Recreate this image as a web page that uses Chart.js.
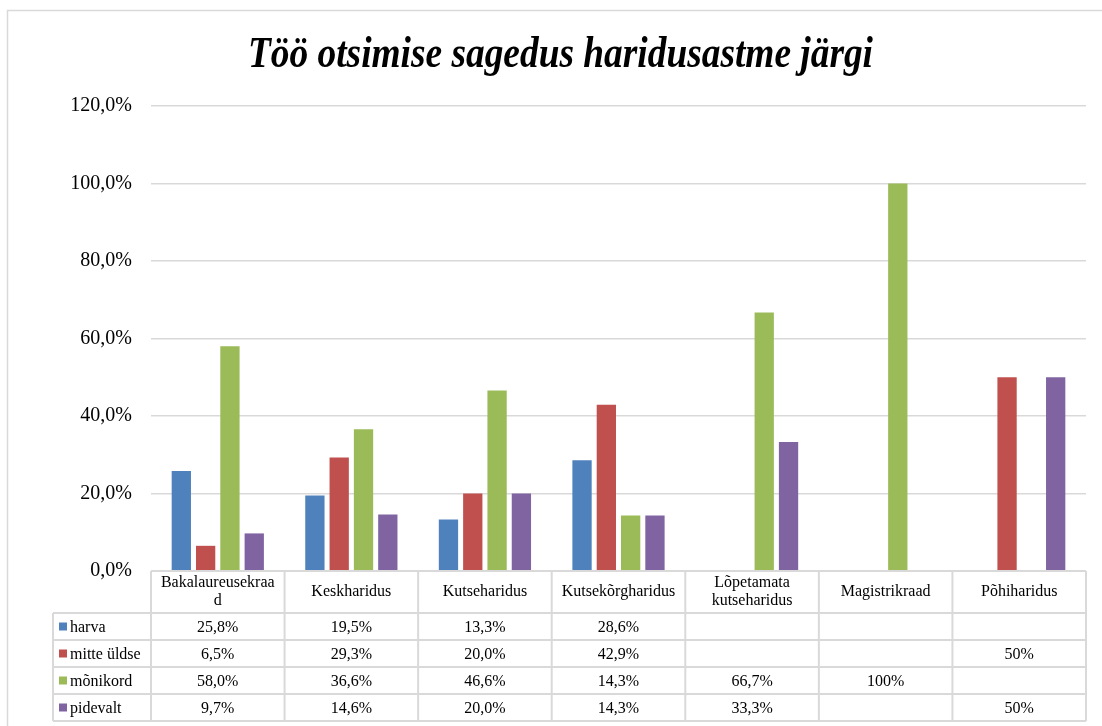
<!DOCTYPE html>
<html><head><meta charset="utf-8">
<script src="https://cdn.jsdelivr.net/npm/chart.js@4.4.0/dist/chart.umd.min.js"></script>
<style>html,body{margin:0;padding:0;background:#fff;overflow:hidden}#wrap{width:1102px;height:726px;position:relative}</style>
</head><body><div id="wrap"><canvas id="c" width="1102" height="726"></canvas></div>
<script>
const chartTitle = "Töö otsimise sagedus haridusastme järgi";
const categories = [["Bakalaureusekraa","d"],"Keskharidus","Kutseharidus","Kutsekõrgharidus",["Lõpetamata","kutseharidus"],"Magistrikraad","Põhiharidus"];
const seriesNames = ["harva","mitte üldse","mõnikord","pidevalt"];
const harva      = [25.8, 19.5, 13.3, 28.6, null, null, null];
const mitteUldse = [6.5, 29.3, 20.0, 42.9, null, null, 50];
const monikord   = [58.0, 36.6, 46.6, 14.3, 66.7, 100, null];
const pidevalt   = [9.7, 14.6, 20.0, 14.3, 33.3, null, 50];
const tableDecimals = [1, 1, 1, 1, 1, 0, 0];
const yTicks = [0, 20, 40, 60, 80, 100, 120];
const colors = ["#4F81BD", "#C0504D", "#9BBB59", "#8064A2"];

const seriesValues = [harva, mitteUldse, monikord, pidevalt];
const SERIF = "'Liberation Serif','Times New Roman',serif";
const GRID = '#d9d9d9';

function fmtPct(v, d){ return v.toFixed(d).replace('.', ',') + '%'; }

const framePlugin = {
  id: 'frame',
  beforeDraw(chart){
    const ctx = chart.ctx;
    ctx.save();
    ctx.fillStyle = '#fff';
    ctx.fillRect(0, 0, chart.width, chart.height);
    ctx.strokeStyle = GRID; ctx.lineWidth = 1.5;
    ctx.strokeRect(7.5, 10.5, 1200, 800);
    ctx.restore();
  },
  afterDraw(chart){
    const ctx = chart.ctx, ca = chart.chartArea, xs = chart.scales.x;
    ctx.save();
    // title
    ctx.font = "bold italic 44px " + SERIF;
    const w = ctx.measureText(chartTitle).width;
    const sx = Math.min(1, 625 / w);
    ctx.translate(560.5, 67);
    ctx.scale(sx, 1);
    ctx.fillStyle = '#000';
    ctx.textAlign = 'center'; ctx.textBaseline = 'alphabetic';
    ctx.fillText(chartTitle, 0, 0);
    ctx.restore();

    // table
    const n = categories.length;
    const cw = (ca.right - ca.left) / n;
    const top = ca.bottom, hdrB = top + 42, rowH = 27, legL = 53;
    const bottom = hdrB + rowH * seriesValues.length;
    ctx.save();
    ctx.strokeStyle = GRID; ctx.lineWidth = 2;
    const line = (x1,y1,x2,y2)=>{ctx.beginPath();ctx.moveTo(x1,y1);ctx.lineTo(x2,y2);ctx.stroke();};
    line(ca.left, top, ca.right, top);
    for (let r = 0; r <= seriesValues.length; r++) {
      const y = hdrB + r * rowH;
      line(legL, y, ca.right, y);
    }
    for (let i = 0; i <= n; i++) {
      const x = ca.left + i * cw;
      line(x, top, x, bottom);
    }
    line(legL, hdrB, legL, bottom);

    ctx.fillStyle = '#000';
    ctx.font = "16px " + SERIF;
    ctx.textAlign = 'center'; ctx.textBaseline = 'middle';
    for (let i = 0; i < n; i++) {
      const cx = xs.getPixelForValue(i);
      const lines = Array.isArray(categories[i]) ? categories[i] : [categories[i]];
      const lh = 18, cy = (top + hdrB) / 2;
      lines.forEach((t, k) => {
        ctx.fillText(t, cx, cy + (k - (lines.length - 1) / 2) * lh);
      });
      seriesValues.forEach((arr, r) => {
        const v = arr[i];
        if (v !== null && v !== undefined) {
          ctx.fillText(fmtPct(v, tableDecimals[i]), cx, hdrB + r * rowH + rowH / 2 + 1);
        }
      });
    }
    ctx.textAlign = 'left';
    seriesNames.forEach((name, r) => {
      const cy = hdrB + r * rowH + rowH / 2;
      ctx.fillStyle = colors[r];
      ctx.fillRect(59, cy - 4, 8, 8);
      ctx.fillStyle = '#000';
      ctx.fillText(name, 70, cy + 1);
    });
    ctx.restore();
  }
};

new Chart(document.getElementById('c'), {
  type: 'bar',
  data: {
    labels: categories,
    datasets: seriesNames.map((name, i) => ({
      label: name,
      data: seriesValues[i],
      backgroundColor: colors[i],
      borderWidth: 0,
      categoryPercentage: 0.728,
      barPercentage: 0.794
    }))
  },
  options: {
    responsive: false,
    animation: false,
    devicePixelRatio: 1,
    layout: { padding: { left: 0, right: 16, top: 106, bottom: 155 } },
    plugins: { legend: { display: false }, title: { display: false }, tooltip: { enabled: false } },
    scales: {
      x: { display: false, grid: { display: false } },
      y: {
        min: 0, max: 120,
        afterBuildTicks(scale){ scale.ticks = yTicks.map(v => ({ value: v })); },
        afterFit(scale){ scale.width = 151; },
        border: { display: false },
        grid: { color: GRID, lineWidth: 1.5, drawTicks: false },
        ticks: {
          padding: 19,
          color: '#000',
          font: { family: SERIF, size: 20 },
          callback: v => fmtPct(v, 1)
        }
      }
    }
  },
  plugins: [framePlugin]
});
</script>
</body></html>
